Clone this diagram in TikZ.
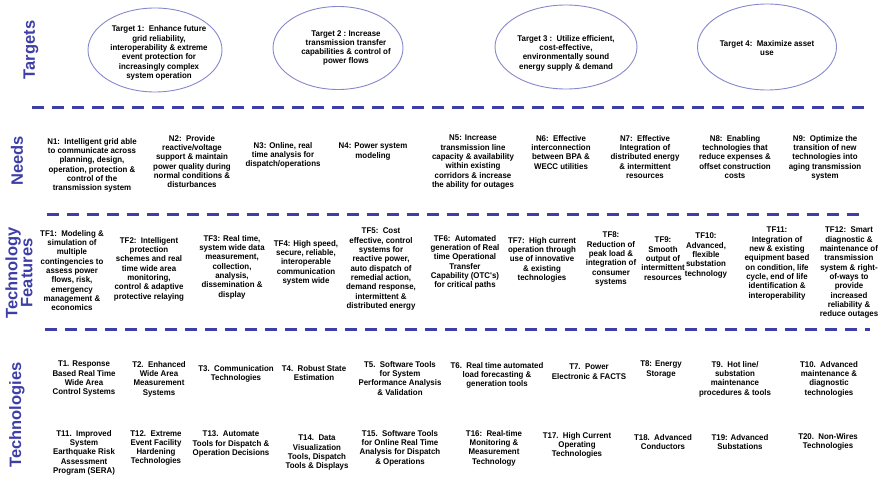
\documentclass[tikz,border=0pt]{standalone}
\usepackage{fontspec}
\setmainfont{Liberation Sans}
\newfontfamily\itemfont{Liberation Sans}[FakeStretch=0.95]
\usetikzlibrary{shapes.geometric}
\definecolor{bandblue}{RGB}{62,62,168}
\definecolor{ringblue}{RGB}{135,135,205}
\begin{document}
\begin{tikzpicture}[x=1pt,y=-1pt,
  rowlabel/.style={text=bandblue, font=\fontsize{16.5}{15}\selectfont\bfseries, rotate=90, align=center, inner sep=0},
  item/.style={font=\itemfont\fontsize{8.3}{9.3}\selectfont\bfseries, align=center, inner sep=0, anchor=north},
  ring/.style={draw=ringblue, line width=0.9pt, ellipse, inner sep=0, fill=white},
  divider/.style={draw=bandblue, line width=3pt, dash pattern=on 12pt off 8pt}]
\useasboundingbox (0,0) rectangle (880,492);

% row labels
\node[rowlabel] (lTargets) at (31,50) {Targets};
\node[rowlabel] (lNeeds) at (17,161) {Needs};
\node[rowlabel] (lFeatures) at (19,273) {Technology\\Features};
\node[rowlabel] (lTech) at (17,415) {Technologies};

% dividers between the rows
\draw[divider] (32,108) -- (866,108);
\draw[divider] (47,214) -- (866,214);
\draw[divider] (45,329) -- (870,329);

% targets
\node[ring, minimum width=134pt, minimum height=84pt] (t1) at (155,50) {};
\node[ring, minimum width=130pt, minimum height=83pt] (t2) at (338,48) {};
\node[ring, minimum width=142pt, minimum height=84pt] (t3) at (566,47) {};
\node[ring, minimum width=139pt, minimum height=86pt] (t4) at (767,47) {};
\node[item, anchor=center] (t1txt) at (159,53) {Target 1:\ \ Enhance future\\grid reliability,\\interoperability \& extreme\\event protection for\\increasingly complex\\system operation};
\node[item, anchor=center] (t2txt) at (346,48) {Target 2 :\ Increase\\transmission transfer\\capabilities \& control of\\power flows};
\node[item, anchor=center] (t3txt) at (566,53) {Target 3 :\ \ Utilize efficient,\\cost-effective,\\environmentally sound\\energy supply \& demand};
\node[item, anchor=center] (t4txt) at (767,48) {Target 4:\ \ Maximize asset\\use};

% needs
\node[item] (n1) at (92,138) {N1:\ \ Intelligent grid able\\to communicate across\\planning, design,\\operation, protection \&\\control of the\\transmission system};
\node[item] (n2) at (192,135) {N2:\ \ Provide\\reactive/voltage\\support \& maintain\\power quality during\\normal conditions \&\\disturbances};
\node[item] (n3) at (283,142) {N3: Online, real\\time analysis for\\dispatch/operations};
\node[item] (n4) at (373,143) {N4: Power system\\modeling};
\node[item] (n5) at (473,135) {N5: Increase\\transmission line\\capacity \& availability\\within existing\\corridors \& increase\\the ability for outages};
\node[item] (n6) at (561,135) {N6:\ \ Effective\\interconnection\\between BPA \&\\WECC utilities};
\node[item] (n7) at (645,135) {N7:\ \ Effective\\Integration of\\distributed energy\\\& intermittent\\resources};
\node[item] (n8) at (735,135) {N8:\ \ Enabling\\technologies that\\reduce expenses \&\\offset construction\\costs};
\node[item] (n9) at (825,135) {N9:\ \ Optimize the\\transition of new\\technologies into\\aging transmission\\system};

% technology features
\node[item] (f1) at (72,230) {TF1:\ \ Modeling \&\\simulation of\\multiple\\contingencies to\\assess power\\flows, risk,\\emergency\\management \&\\economics};
\node[item] (f2) at (149,237) {TF2:\ \ Intelligent\\protection\\schemes and real\\time wide area\\monitoring,\\control \& adaptive\\protective relaying};
\node[item] (f3) at (232,235) {TF3: Real time,\\system wide data\\measurement,\\collection,\\analysis,\\dissemination \&\\display};
\node[item] (f4) at (306,240) {TF4: High speed,\\secure, reliable,\\interoperable\\communication\\system wide};
\node[item] (f5) at (381,228) {TF5:\ \ Cost\\effective, control\\systems for\\reactive power,\\auto dispatch of\\remedial action,\\demand response,\\intermittent \&\\distributed energy};
\node[item] (f6) at (465,235) {TF6:\ \ Automated\\generation of Real\\time Operational\\Transfer\\Capability (OTC's)\\for critical paths};
\node[item] (f7) at (542,237) {TF7:\ \ High current\\operation through\\use of innovative\\\& existing\\technologies};
\node[item] (f8) at (611,232) {TF8:\\Reduction of\\peak load \&\\integration of\\consumer\\systems};
\node[item] (f9) at (663,237) {TF9:\\Smooth\\output of\\intermittent\\resources};
\node[item] (f10) at (706,233) {TF10:\\Advanced,\\flexible\\substation\\technology};
\node[item] (f11) at (777,227) {TF11:\\Integration of\\new \& existing\\equipment based\\on condition, life\\cycle, end of life\\identification \&\\interoperability};
\node[item] (f12) at (849,227) {TF12:\ \ Smart\\diagnostic \&\\maintenance of\\transmission\\system \& right-\\of-ways to\\provide\\increased\\reliability \&\\reduce outages};

% technologies, first line
\node[item] (k1) at (84,361) {T1. Response\\Based Real Time\\Wide Area\\Control Systems};
\node[item] (k2) at (159,361) {T2.\ \ Enhanced\\Wide Area\\Measurement\\Systems};
\node[item] (k3) at (236,365) {T3.\ \ Communication\\Technologies};
\node[item] (k4) at (314,365) {T4.\ \ Robust State\\Estimation};
\node[item] (k5) at (400,361) {T5.\ \ Software Tools\\for System\\Performance Analysis\\\& Validation};
\node[item] (k6) at (497,362) {T6.\ \ Real time automated\\load forecasting \&\\generation tools};
\node[item] (k7) at (589,364) {T7.\ \ Power\\Electronic \& FACTS};
\node[item] (k8) at (661,361) {T8: Energy\\Storage};
\node[item] (k9) at (735,361) {T9.\ \ Hot line/\\substation\\maintenance\\procedures \& tools};
\node[item] (k10) at (829,361) {T10.\ \ Advanced\\maintenance \&\\diagnostic\\technologies};

% technologies, second line
\node[item] (k11) at (84,430) {T11.\ \ Improved\\System\\Earthquake Risk\\Assessment\\Program (SERA)};
\node[item] (k12) at (156,430) {T12.\ \ Extreme\\Event Facility\\Hardening\\Technologies};
\node[item] (k13) at (231,431) {T13.\ \ Automate\\Tools for Dispatch \&\\Operation Decisions};
\node[item] (k14) at (317,435) {T14.\ \ Data\\Visualization\\Tools, Dispatch\\Tools \& Displays};
\node[item] (k15) at (400,430) {T15.\ \ Software Tools\\for Online Real Time\\Analysis for Dispatch\\\& Operations};
\node[item] (k16) at (494,430) {T16:\ \ Real-time\\Monitoring \&\\Measurement\\Technology};
\node[item] (k17) at (577,432) {T17.\ \ High Current\\Operating\\Technologies};
\node[item] (k18) at (663,434) {T18.\ \ Advanced\\Conductors};
\node[item] (k19) at (740,434) {T19: Advanced\\Substations};
\node[item] (k20) at (828,433) {T20.\ \ Non-Wires\\Technologies};
\end{tikzpicture}
\end{document}
